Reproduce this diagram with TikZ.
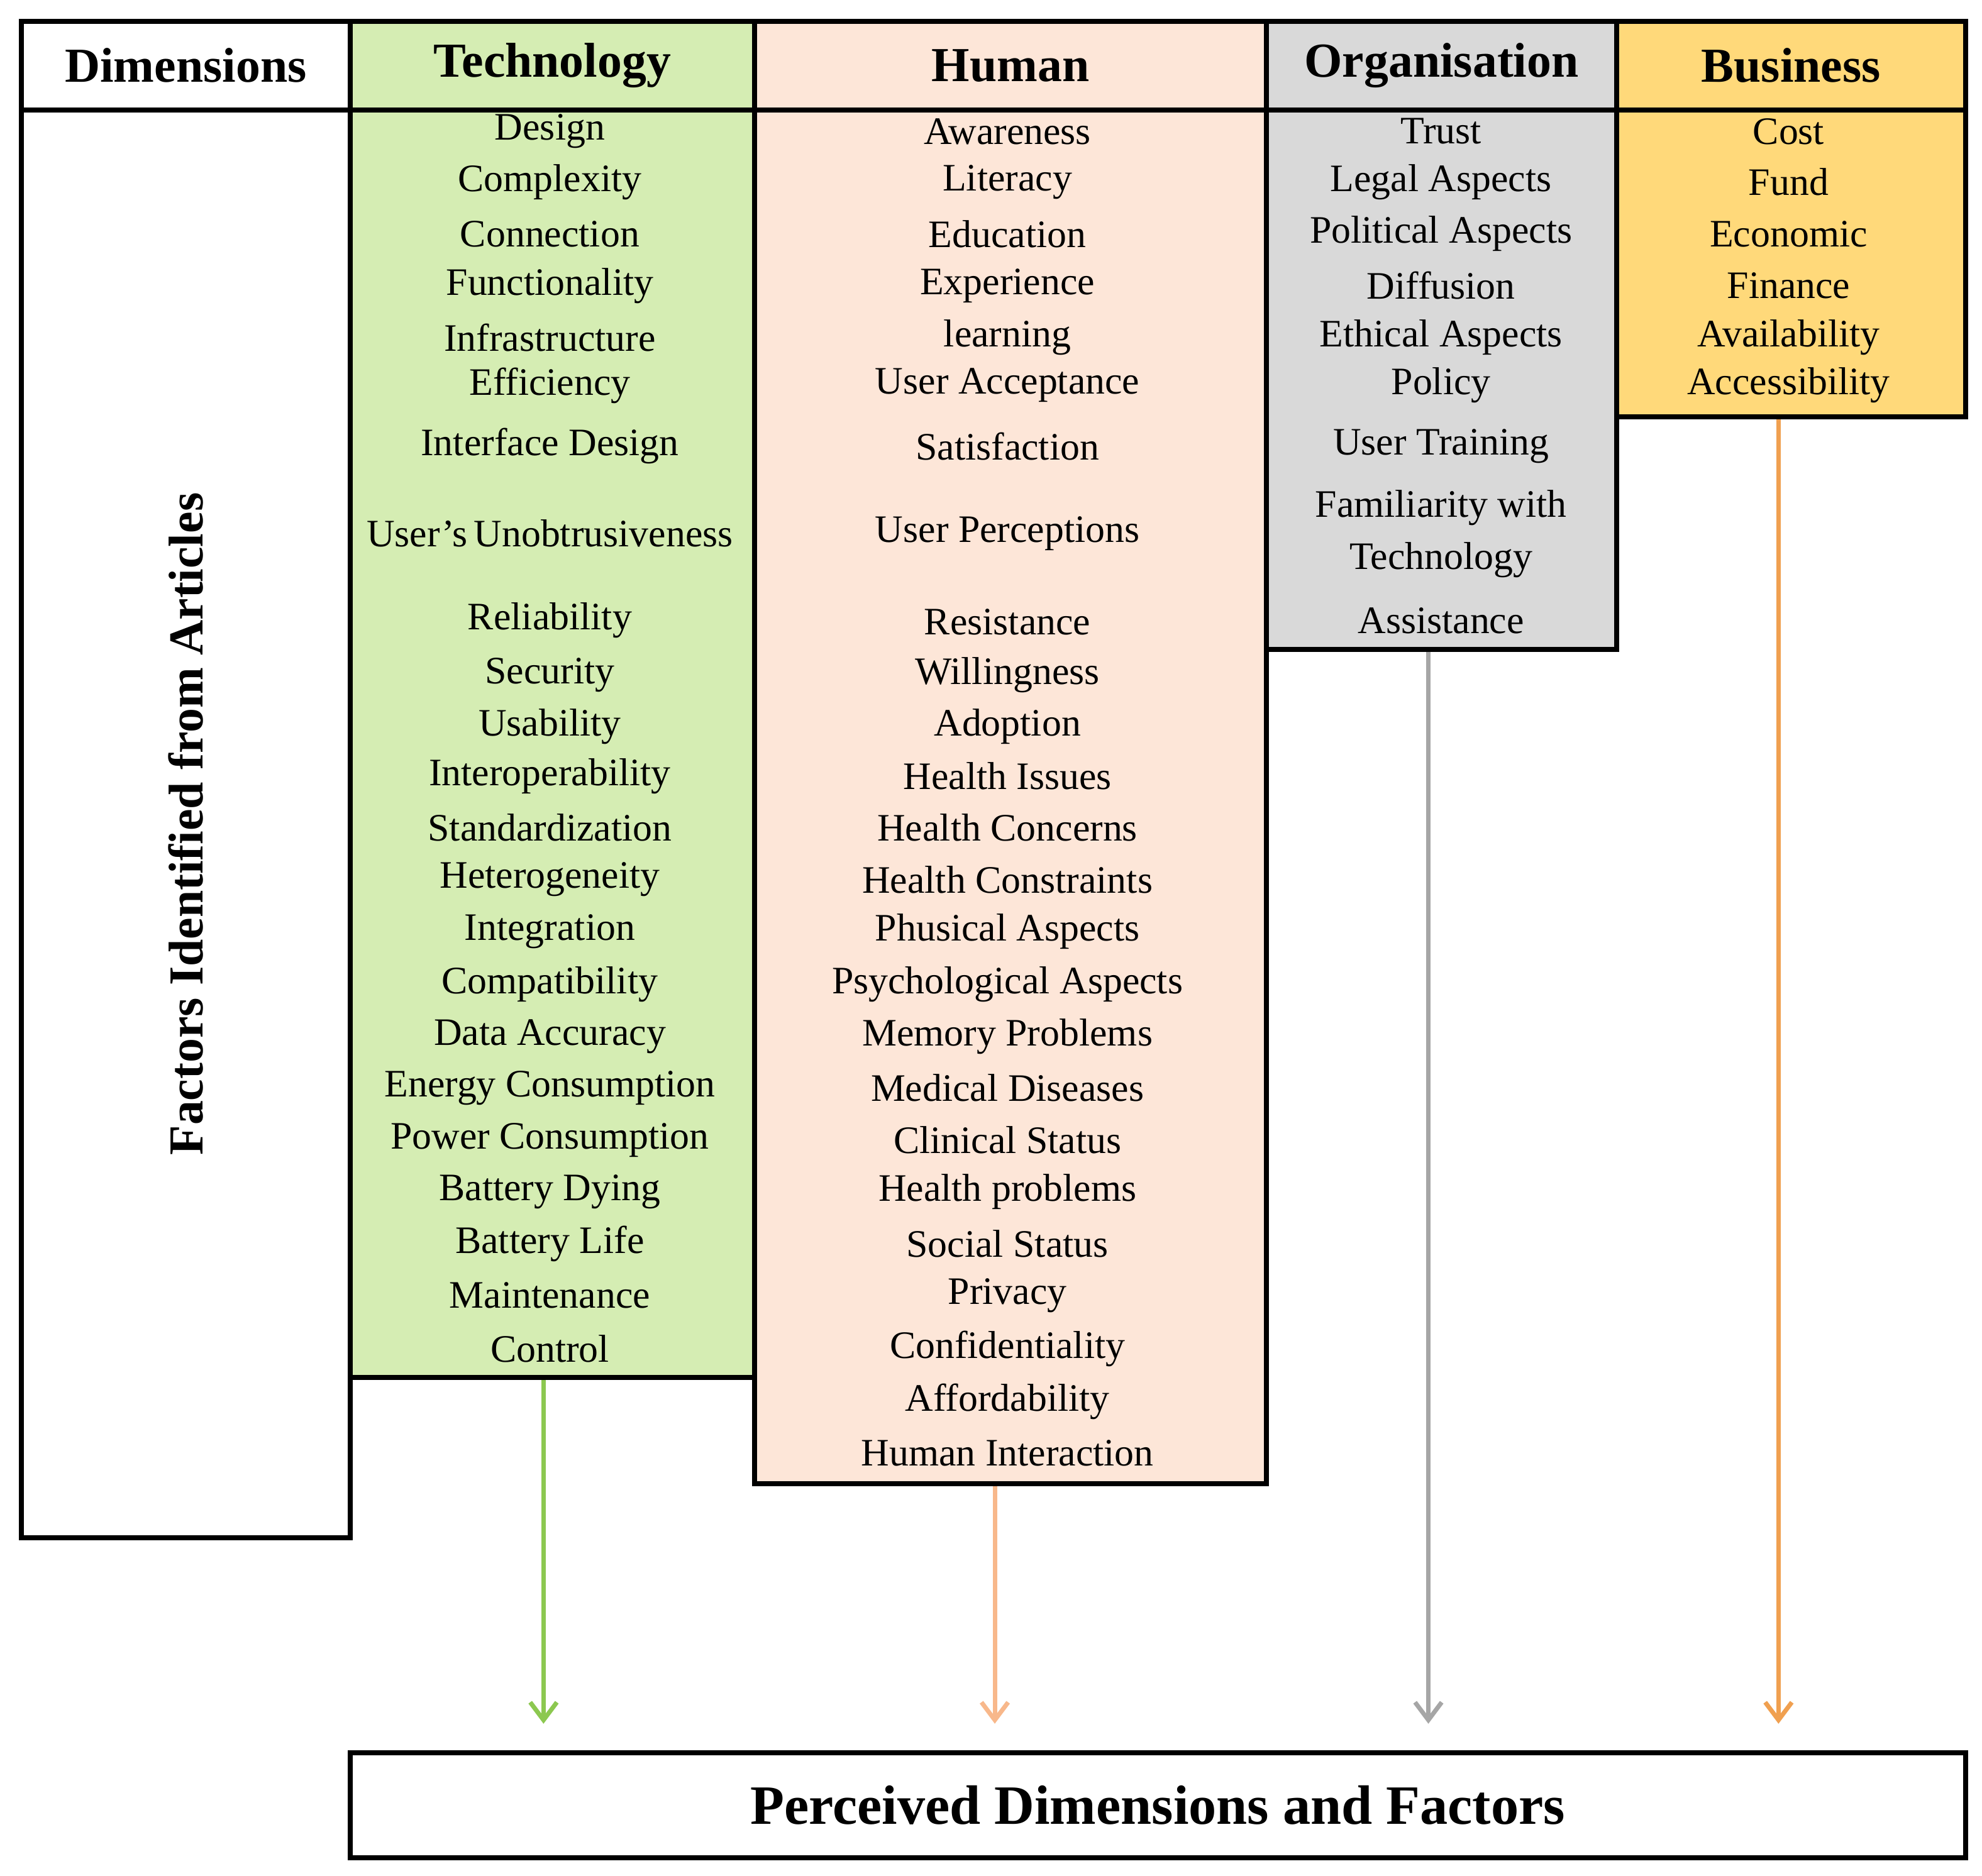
\documentclass[tikz,border=0pt]{standalone}
\usepackage{fontspec}
\setmainfont{Liberation Serif}
\usetikzlibrary{arrows.meta}
\definecolor{cgreen}{HTML}{D5EDB3}
\definecolor{cpeach}{HTML}{FDE6D8}
\definecolor{cgray}{HTML}{D9D9D9}
\definecolor{cyellow}{HTML}{FFD97A}
\definecolor{agreen}{HTML}{8CC850}
\definecolor{apeach}{HTML}{F8B88B}
\definecolor{agray}{HTML}{A6A6A6}
\definecolor{aorange}{HTML}{F0A050}
\begin{document}
\begin{tikzpicture}[x=0.02cm,y=-0.02cm,
 box/.style={draw,line width=2.2pt,inner sep=0,anchor=north west},
 hd/.style={font=\fontsize{22}{24}\selectfont\bfseries},
 it/.style={font=\fontsize{17.5}{19}\selectfont},
 arr/.style={line width=2pt,-{Straight Barb[length=8pt,width=12pt]},shorten >=12pt}]
\useasboundingbox (0,0) rectangle (1568,1484);
% header
\node[box,minimum width=260*0.02cm,minimum height=70*0.02cm] (hdim) at (15,15) {};
\node[hd] at (hdim.center) {Dimensions};
\node[box,fill=cgreen,minimum width=320*0.02cm,minimum height=70*0.02cm] (htech) at (275,15) {};
\node[hd] at (htech.center) {Technology};
\node[box,fill=cpeach,minimum width=405*0.02cm,minimum height=70*0.02cm] (hhum) at (595,15) {};
\node[hd] at (hhum.center) {Human};
\node[box,fill=cgray,minimum width=277*0.02cm,minimum height=70*0.02cm] (horg) at (1000,15) {};
\node[hd] at (horg.center) {Organisation};
\node[box,fill=cyellow,minimum width=276*0.02cm,minimum height=70*0.02cm] (hbus) at (1277,15) {};
\node[hd] at (hbus.center) {Business};
% bodies
\node[box,minimum width=260*0.02cm,minimum height=1130*0.02cm] (dim) at (15,85) {};
\node[hd,rotate=90] at (dim.center) {Factors Identified from Articles};
\node[box,fill=cgreen,minimum width=320*0.02cm,minimum height=1003*0.02cm] (tech) at (275,85) {};
\node[box,fill=cpeach,minimum width=405*0.02cm,minimum height=1087*0.02cm] (hum) at (595,85) {};
\node[box,fill=cgray,minimum width=277*0.02cm,minimum height=427*0.02cm] (org) at (1000,85) {};
\node[box,fill=cyellow,minimum width=276*0.02cm,minimum height=243*0.02cm] (bus) at (1277,85) {};
% texts
\foreach \t/\y [count=\i] in {Design/104,Complexity/144,Connection/185,Functionality/226,Infrastructure/267,Efficiency/305,Interface Design/353,User's\,Unobtrusiveness/422,Reliability/491,Security/534,Usability/575,Interoperability/614,Standardization/655,Heterogeneity/696,Integration/737,Compatibility/779,Data Accuracy/820,Energy Consumption/861,Power Consumption/902,Battery Dying/943,Battery Life/984,Maintenance/1025,Control/1067}
  \node[it] (t\i) at (435,\y) {\t};
\foreach \t/\y [count=\i] in {Awareness/104,Literacy/144,Education/185,Experience/226,learning/267,User Acceptance/305,Satisfaction/353,User Perceptions/422,Resistance/492,Willingness/534,Adoption/575,Health Issues/614,Health Concerns/655,Health Constraints/696,Phusical Aspects/737,Psychological Aspects/779,Memory Problems/820,Medical Diseases/861,Clinical Status/902,Health problems/943,Social Status/984,Privacy/1025,Confidentiality/1067,Affordability/1109,Human Interaction/1150}
  \node[it] (h\i) at (797,\y) {\t};
\foreach \t/\y [count=\i] in {Trust/104,Legal Aspects/144,Political Aspects/185,Diffusion/226,Ethical Aspects/267,Policy/305,User Training/353,Familiarity with/402,Technology/443,Assistance/491}
  \node[it] (o\i) at (1140,\y) {\t};
\foreach \t/\y [count=\i] in {Cost/104,Fund/144,Economic/185,Finance/226,Availability/267,Accessibility/305}
  \node[it] (b\i) at (1415,\y) {\t};
% bottom
\node[box,minimum width=1278*0.02cm,minimum height=83*0.02cm] (res) at (275,1385) {};
\node[font=\fontsize{25}{28}\selectfont\bfseries] at (res.center) {Perceived Dimensions and Factors};
% arrows
\draw[arr,agreen] (tech.south -| 430,0) -- (res.north -| 430,0);
\draw[arr,apeach] (hum.south -| 787,0) -- (res.north -| 787,0);
\draw[arr,agray] (org.south -| 1130,0) -- (res.north -| 1130,0);
\draw[arr,aorange] (bus.south -| 1407,0) -- (res.north -| 1407,0);
\end{tikzpicture}
\end{document}
